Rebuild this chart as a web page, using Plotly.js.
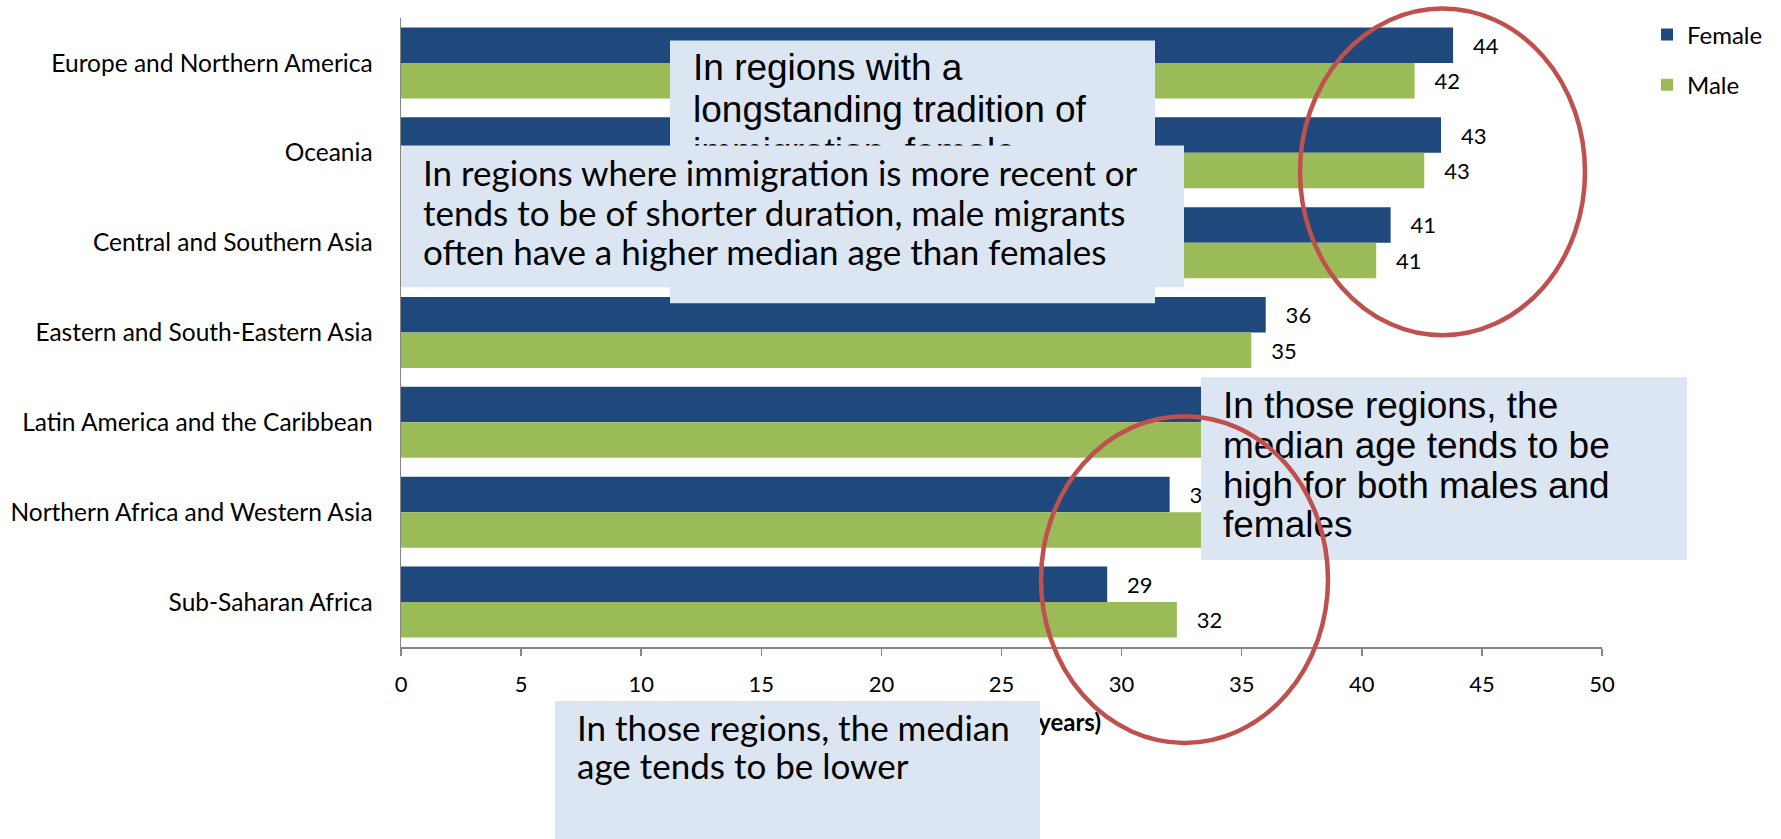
<!DOCTYPE html>
<html lang="en">
<head>
<meta charset="UTF-8">
<title>Median age of international migrants by sex and region</title>
<script src="https://cdn.plot.ly/plotly-3.0.1.min.js"></script>
<style>
    body { margin: 0; background: #ffffff; }
    #chart { width: 1781px; height: 839px; }
</style>
</head>
<body>
<div id="chart"></div>
<script>
    // regions, top to bottom
    const regions = [
        'Europe and Northern America',
        'Oceania',
        'Central and Southern Asia',
        'Eastern and South-Eastern Asia',
        'Latin America and the Caribbean',
        'Northern Africa and Western Asia',
        'Sub-Saharan Africa'
    ];
    // median age (years); Latin America and the N. Africa male bar sit under the callouts
    const femaleAge = [43.8, 43.3, 41.2, 36.0, 36.6, 32.0, 29.4];
    const maleAge   = [42.2, 42.6, 40.6, 35.4, 35.8, 34.0, 32.3];
    const seriesNames = ['Female', 'Male'];
    const xTickVals = [0, 5, 10, 15, 20, 25, 30, 35, 40, 45, 50];
    const xAxisTitle = 'Median age (years)';

    // callout texts
    const noteLongstanding = ['In regions with a', 'longstanding tradition of', 'immigration, female'];
    const noteRecent = [
        'In regions where immigration is more recent or',
        'tends to be of shorter duration, male migrants',
        'often have a higher median age than females'
    ];
    const noteHigh = ['In those regions, the', 'median age tends to be', 'high for both males and', 'females'];
    const noteLow = ['In those regions, the median', 'age tends to be lower'];

    const FEMALE_COLOR = '#1F497D';
    const MALE_COLOR = '#9BBB59';
    const BOX_FILL = '#DCE6F2';
    const RING_COLOR = '#C0504D';
    const AXIS_GREY = '#868686';
    const LATO = 'Lato, "Open Sans", sans-serif';
    const ARIAL = '"Liberation Sans", Arial, sans-serif';
    const PAD = '\u00A0\u00A0\u00A0';

    // plot area in page pixels, used to place the callouts in paper units
    const P = { left: 401, right: 1602, top: 17.5, bottom: 647 };
    const px = x => (x - P.left) / (P.right - P.left);
    const py = y => (P.bottom - y) / (P.bottom - P.top);

    function box(x0, y0, x1, y1) {
        return {
            type: 'rect', xref: 'paper', yref: 'paper', layer: 'above',
            x0: px(x0), x1: px(x1), y0: py(y1), y1: py(y0),
            fillcolor: BOX_FILL, line: { width: 0 }
        };
    }

    // one invisible shape per line so line spacing can follow the original
    function textLines(lines, left, firstBaseline, step, font) {
        return lines.map((t, i) => {
            const top = firstBaseline + i * step - font.size;
            return {
                type: 'rect', xref: 'paper', yref: 'paper', layer: 'above',
                x0: px(left), x1: px(left + 1), y0: py(top + 1), y1: py(top),
                fillcolor: 'rgba(0,0,0,0)', line: { width: 0 },
                label: { text: t, textposition: 'top left', padding: 0, font: font }
            };
        });
    }

    function ring(x0, y0, x1, y1) {
        return {
            type: 'circle', xref: 'paper', yref: 'paper', layer: 'above',
            x0: px(x0), x1: px(x1), y0: py(y1), y1: py(y0),
            fillcolor: 'rgba(0,0,0,0)', line: { color: RING_COLOR, width: 4.5 }
        };
    }

    const arialFont = { family: ARIAL, size: 37, color: '#000000' };
    const latoFont = { family: LATO, size: 35, color: '#000000' };

    const shapes = [
        // axis title drawn as a shape label so the lower callout can cover it
        {
            type: 'rect', xref: 'paper', yref: 'paper', layer: 'above',
            x0: 0, x1: 1, y0: py(708), y1: py(707),
            fillcolor: 'rgba(0,0,0,0)', line: { width: 0 },
            label: { text: xAxisTitle, textposition: 'top center', padding: 0,
                     font: { family: LATO, size: 24, color: '#000000', weight: 'bold' } }
        },
        box(670, 40, 1155, 303),
        ...textLines(noteLongstanding, 690, 80, 42, arialFont),
        box(401, 145, 1184, 287),
        ...textLines(noteRecent, 420, 186, 39.5, latoFont),
        box(1201, 377, 1687, 560),
        ...textLines(noteHigh, 1220, 418, 39.7, arialFont),
        box(555, 701, 1040, 870),
        ...textLines(noteLow, 574, 741, 38.5, latoFont),
        ring(1300, 8, 1585, 335),
        ring(1041, 416, 1328, 743)
    ];

    const labelFont = { family: LATO, size: 22, color: '#000000' };

    const traces = [
        {
            type: 'bar', orientation: 'h', name: seriesNames[0], legendgroup: 'f',
            y: regions, x: femaleAge,
            marker: { color: FEMALE_COLOR },
            texttemplate: PAD + '%{x:.0f}', textposition: 'outside',
            textfont: labelFont, outsidetextfont: labelFont,
            constraintext: 'none', cliponaxis: false, hoverinfo: 'skip'
        },
        {
            type: 'bar', orientation: 'h', name: seriesNames[1], legendgroup: 'm',
            y: regions, x: maleAge,
            marker: { color: MALE_COLOR },
            texttemplate: PAD + '%{x:.0f}', textposition: 'outside',
            textfont: labelFont, outsidetextfont: labelFont,
            constraintext: 'none', cliponaxis: false, hoverinfo: 'skip'
        }
    ];

    const layout = {
        width: 1781,
        height: 839,
        margin: { l: P.left, r: 1781 - P.right, t: P.top, b: 839 - P.bottom, pad: 0 },
        paper_bgcolor: '#ffffff',
        plot_bgcolor: '#ffffff',
        barmode: 'group',
        bargap: 0.21,
        bargroupgap: 0,
        xaxis: {
            range: [0, 50],
            tickvals: xTickVals,
            showgrid: false,
            zeroline: false,
            showline: true,
            linecolor: AXIS_GREY,
            linewidth: 1.5,
            ticks: 'outside',
            ticklen: 7,
            tickwidth: 1.5,
            tickcolor: AXIS_GREY,
            ticklabelstandoff: 10,
            tickfont: { family: LATO, size: 22, color: '#000000' }
        },
        yaxis: {
            type: 'category',
            categoryorder: 'array',
            categoryarray: regions,
            autorange: 'reversed',
            showgrid: false,
            zeroline: false,
            showline: true,
            linecolor: AXIS_GREY,
            linewidth: 1.5,
            ticks: '',
            ticklabelstandoff: 22,
            tickfont: { family: LATO, size: 24.5, color: '#000000' }
        },
        showlegend: true,
        legend: {
            x: px(1647), y: py(12), xanchor: 'left', yanchor: 'top',
            traceorder: 'grouped', tracegroupgap: 16,
            bgcolor: 'rgba(0,0,0,0)',
            font: { family: LATO, size: 24, color: '#000000' }
        },
        shapes: shapes
    };

    Plotly.newPlot('chart', traces, layout, { staticPlot: true, displayModeBar: false });
</script>
</body>
</html>
